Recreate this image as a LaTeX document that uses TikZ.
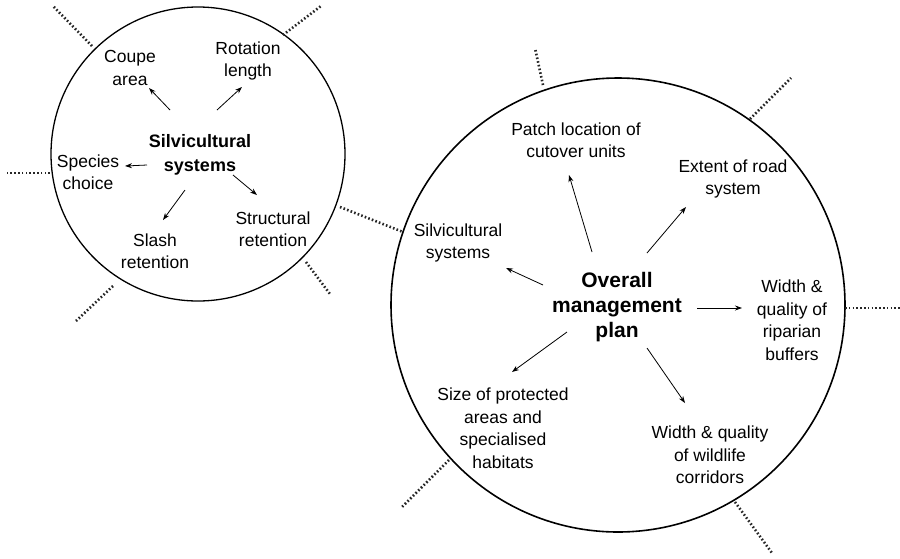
\documentclass[tikz,border=0pt]{standalone}
\usepackage{fontspec}
\setmainfont{Liberation Sans}
\usetikzlibrary{arrows.meta,calc}

\tikzset{
  lbl/.style={align=center, inner sep=0pt, font=\fontsize{17.5}{22.5}\selectfont},
  hubsmall/.style={align=center, inner sep=0pt, font=\bfseries\fontsize{18}{24}\selectfont},
  hubbig/.style={align=center, inner sep=0pt, font=\bfseries\fontsize{21}{25}\selectfont},
  arr/.style={line width=0.8pt, -{Stealth[length=7pt,width=5pt]}},
  ring/.style={draw, circle, line width=1.3pt, inner sep=0pt},
  dotline/.style={line width=2.6pt, dash pattern=on 1.6pt off 2.2pt, black!85}
}

\begin{document}
\begin{tikzpicture}[x=1pt, y=-1pt]
\useasboundingbox (0,0) rectangle (900,558);

% --- the two circles ---
\node[ring, minimum size=294pt] (sysring) at (198,154) {};
\node[ring, line width=1.6pt, minimum size=454pt] (planring) at (618,305) {};

% --- silvicultural systems circle ---
\node[hubsmall] (sctr) at (200,155) {Silvicultural\\systems};
\node[lbl] (coupe)  at (130,68)  {Coupe\\area};
\node[lbl] (rot)    at (248,61)  {Rotation\\length};
\node[lbl] (spec)   at (88,172)  {Species\\choice};
\node[lbl] (struct) at (273,229) {Structural\\retention};
\node[lbl] (slash)  at (155,251) {Slash\\retention};

\draw[arr] ($(sctr)+(-30,-45)$) -- ($(coupe)+(19,20)$);
\draw[arr] ($(sctr)+(17,-45)$)  -- ($(rot)+(-6,26)$);
\draw[arr] ($(sctr)+(-53,10)$)  -- ($(spec)+(37,-6)$);
\draw[arr] ($(sctr)+(33,20)$)   -- ($(struct)+(-16,-34)$);
\draw[arr] ($(sctr)+(-15,35)$)  -- ($(slash)+(8,-31)$);

% --- overall management plan circle ---
\node[hubbig] (bctr) at (617,307) {Overall\\management\\plan};
\node[lbl] (patch)  at (576,140) {Patch location of\\cutover units};
\node[lbl] (road)   at (733,179) {Extent of road\\system};
\node[lbl] (bsilv)  at (458,243) {Silvicultural\\systems};
\node[lbl] (rip)    at (792,320) {Width \&\\quality of\\riparian\\buffers};
\node[lbl] (prot)   at (503,428) {Size of protected\\areas and\\specialised\\habitats};
\node[lbl] (wild)   at (710,455) {Width \& quality\\of wildlife\\corridors};

\draw[arr] ($(bctr)+(-25,-55)$) -- ($(patch)+(-7,35)$);
\draw[arr] ($(bctr)+(30,-54)$)  -- ($(road)+(-47,28)$);
\draw[arr] ($(bctr)+(-74,-22)$) -- ($(bsilv)+(48,25)$);
\draw[arr] ($(bctr)+(80,1)$)    -- ($(rip)+(-50,-12)$);
\draw[arr] ($(bctr)+(-50,25)$)  -- ($(prot)+(9,-56)$);
\draw[arr] ($(bctr)+(30,41)$)   -- ($(wild)+(-25,-52)$);

% --- dotted links leaving the circles ---
\coordinate (l1) at (340,207);
\coordinate (l2) at (403,232);
\draw[dotline] (l1) -- (l2);

\draw[dotline] (92,46)   -- (53,6);
\draw[dotline] (283,35)  -- (321,6);
\draw[dotline] (50,173)  -- (5,173);
\draw[dotline] (306,262) -- (330,294);
\draw[dotline] (113,286) -- (76,321);

\draw[dotline] (543,85)  -- (535,48);
\draw[dotline] (750,119) -- (791,78);
\draw[dotline] (845,308) -- (900,308);
\draw[dotline] (735,502) -- (772,553);
\draw[dotline] (449,460) -- (402,507);
\end{tikzpicture}
\end{document}
